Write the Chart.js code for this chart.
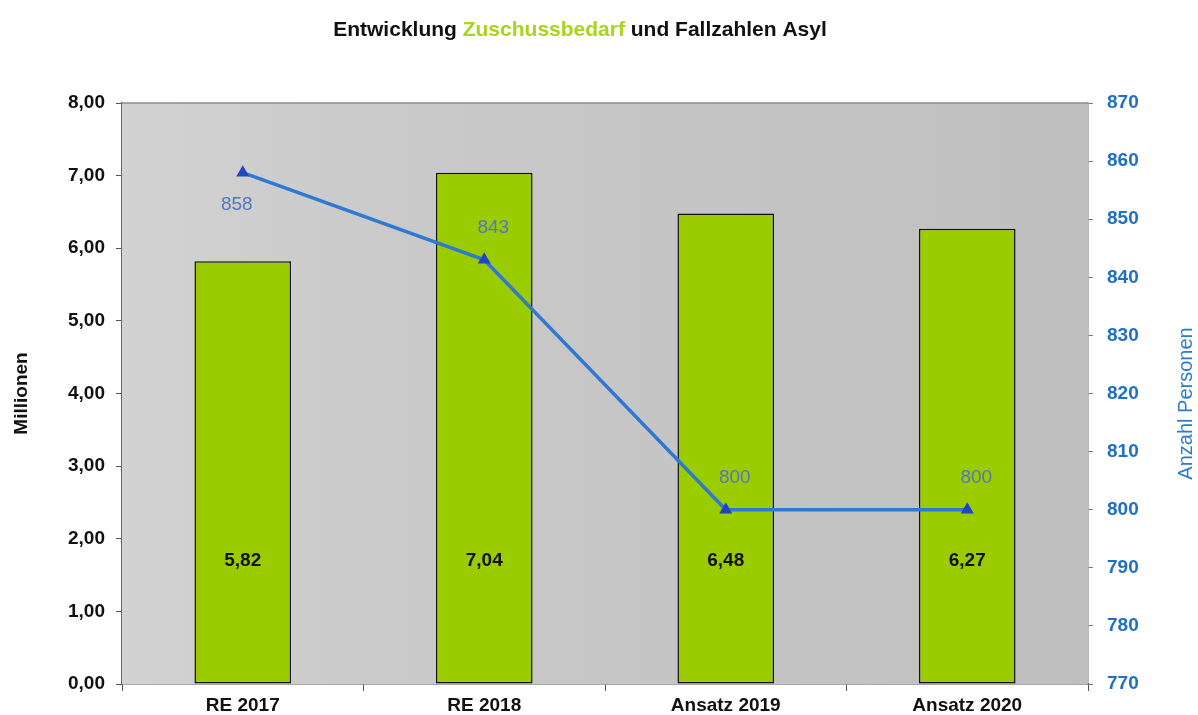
<!DOCTYPE html>
<html>
<head>
<meta charset="utf-8">
<script src="https://cdn.jsdelivr.net/npm/chart.js@4/dist/chart.umd.min.js"></script>
<style>
  html, body { margin: 0; padding: 0; background: #fff; }
  #wrap { width: 1198px; height: 715px; position: relative; }
</style>
</head>
<body>
<div id="wrap"><canvas id="asylChart"></canvas></div>
<script>
const categories = ['RE 2017', 'RE 2018', 'Ansatz 2019', 'Ansatz 2020'];
const zuschuss = [5.82, 7.04, 6.48, 6.27];
const fallzahlen = [858, 843, 800, 800];

const FONT = '"Liberation Sans", Arial, sans-serif';
const de = v => v.toFixed(2).replace('.', ',');

// Titel mit farbigem Mittelteil, grauer Plot-Hintergrund, Beschriftungen
const decor = {
  id: 'decor',
  beforeDatasetsDraw(chart) {
    const { ctx, chartArea: a } = chart;
    ctx.save();
    const g = ctx.createLinearGradient(a.left, 0, a.right, 0);
    g.addColorStop(0, '#d2d2d2');
    g.addColorStop(0.3, '#c9c9c9');
    g.addColorStop(1, '#bfbfbf');
    ctx.fillStyle = g;
    ctx.fillRect(a.left, a.top, a.right - a.left, a.bottom - a.top);
    ctx.strokeStyle = '#8c8c8c';
    ctx.lineWidth = 1.5;
    ctx.beginPath();
    ctx.moveTo(a.left, a.top);
    ctx.lineTo(a.right, a.top);
    ctx.stroke();
    ctx.restore();
  },
  afterDatasetsDraw(chart) {
    const { ctx, scales } = chart;
    ctx.save();
    ctx.textAlign = 'center';
    ctx.textBaseline = 'middle';

    ctx.font = 'bold 19px ' + FONT;
    ctx.fillStyle = '#111';
    chart.getDatasetMeta(1).data.forEach((bar, i) => {
      ctx.fillText(de(zuschuss[i]), bar.x, scales.y.getPixelForValue(1.7));
    });

    ctx.font = '19px ' + FONT;
    ctx.fillStyle = '#5677be';
    const top = Math.max(...fallzahlen);
    chart.getDatasetMeta(0).data.forEach((pt, i) => {
      const below = fallzahlen[i] === top;
      ctx.fillText(String(fallzahlen[i]), pt.x + (below ? -6 : 9), pt.y + (below ? 32 : -32));
    });
    ctx.restore();
  },
  afterDraw(chart) {
    const { ctx, chartArea: a } = chart;
    ctx.save();
    ctx.font = 'bold 21px ' + FONT;
    ctx.textBaseline = 'middle';
    const parts = [['Entwicklung ', '#111'], ['Zuschussbedarf', '#a8d41c'], [' und Fallzahlen Asyl', '#111']];
    const total = parts.reduce((s, p) => s + ctx.measureText(p[0]).width, 0);
    let x = 580 - total / 2;
    parts.forEach(([t, c]) => {
      ctx.fillStyle = c;
      ctx.textAlign = 'left';
      ctx.fillText(t, x, 30);
      x += ctx.measureText(t).width;
    });

    ctx.translate(1186, (a.top + a.bottom) / 2 + 10);
    ctx.rotate(-Math.PI / 2);
    ctx.textAlign = 'center';
    ctx.font = '20px ' + FONT;
    ctx.fillStyle = '#2a7ccc';
    ctx.fillText('Anzahl Personen', 0, 0);
    ctx.restore();
  }
};

new Chart(document.getElementById('asylChart'), {
  data: {
    labels: categories,
    datasets: [
      {
        type: 'line',
        label: 'Fallzahlen',
        data: fallzahlen,
        yAxisID: 'y1',
        borderColor: '#3079d2',
        borderWidth: 3.5,
        tension: 0,
        pointStyle: 'triangle',
        pointRadius: 4,
        pointBackgroundColor: '#1f44c4',
        pointBorderColor: '#1f44c4',
        order: 0
      },
      {
        type: 'bar',
        label: 'Zuschussbedarf',
        data: zuschuss,
        yAxisID: 'y',
        backgroundColor: '#9bcc00',
        borderColor: '#111',
        borderWidth: 1.5,
        borderSkipped: false,
        categoryPercentage: 0.4,
        barPercentage: 1,
        order: 1
      }
    ]
  },
  options: {
    responsive: true,
    maintainAspectRatio: false,
    animation: false,
    layout: { padding: { top: 103, left: 0, right: 0, bottom: 0 } },
    plugins: { legend: { display: false }, tooltip: { enabled: false }, title: { display: false } },
    scales: {
      x: {
        offset: true,
        grid: { offset: true, drawOnChartArea: false, tickLength: 7, color: '#555' },
        border: { color: '#555', width: 1.5 },
        ticks: { color: '#111', font: { family: FONT, size: 19, weight: 'bold' }, padding: 3 },
        afterFit(s) { s.height = 31; }
      },
      y: {
        position: 'left',
        min: 0,
        max: 8,
        ticks: { stepSize: 1, callback: v => de(v), color: '#111', font: { family: FONT, size: 19, weight: 'bold' }, padding: 11 },
        grid: { drawOnChartArea: false, tickLength: 6, color: '#555' },
        border: { color: '#666', width: 1.5 },
        title: { display: true, text: 'Millionen', color: '#111', font: { family: FONT, size: 19, weight: 'bold' }, padding: { top: 10, bottom: 0 } },
        afterFit(s) { s.width = 122; }
      },
      y1: {
        position: 'right',
        min: 770,
        max: 870,
        ticks: { stepSize: 10, color: '#1f6fc4', font: { family: FONT, size: 19, weight: 'bold' }, padding: 14 },
        grid: { drawOnChartArea: false, tickLength: 5, color: '#777' },
        border: { color: '#777', width: 1.5 },
        afterFit(s) { s.width = 110; }
      }
    }
  },
  plugins: [decor]
});
</script>
</body>
</html>
